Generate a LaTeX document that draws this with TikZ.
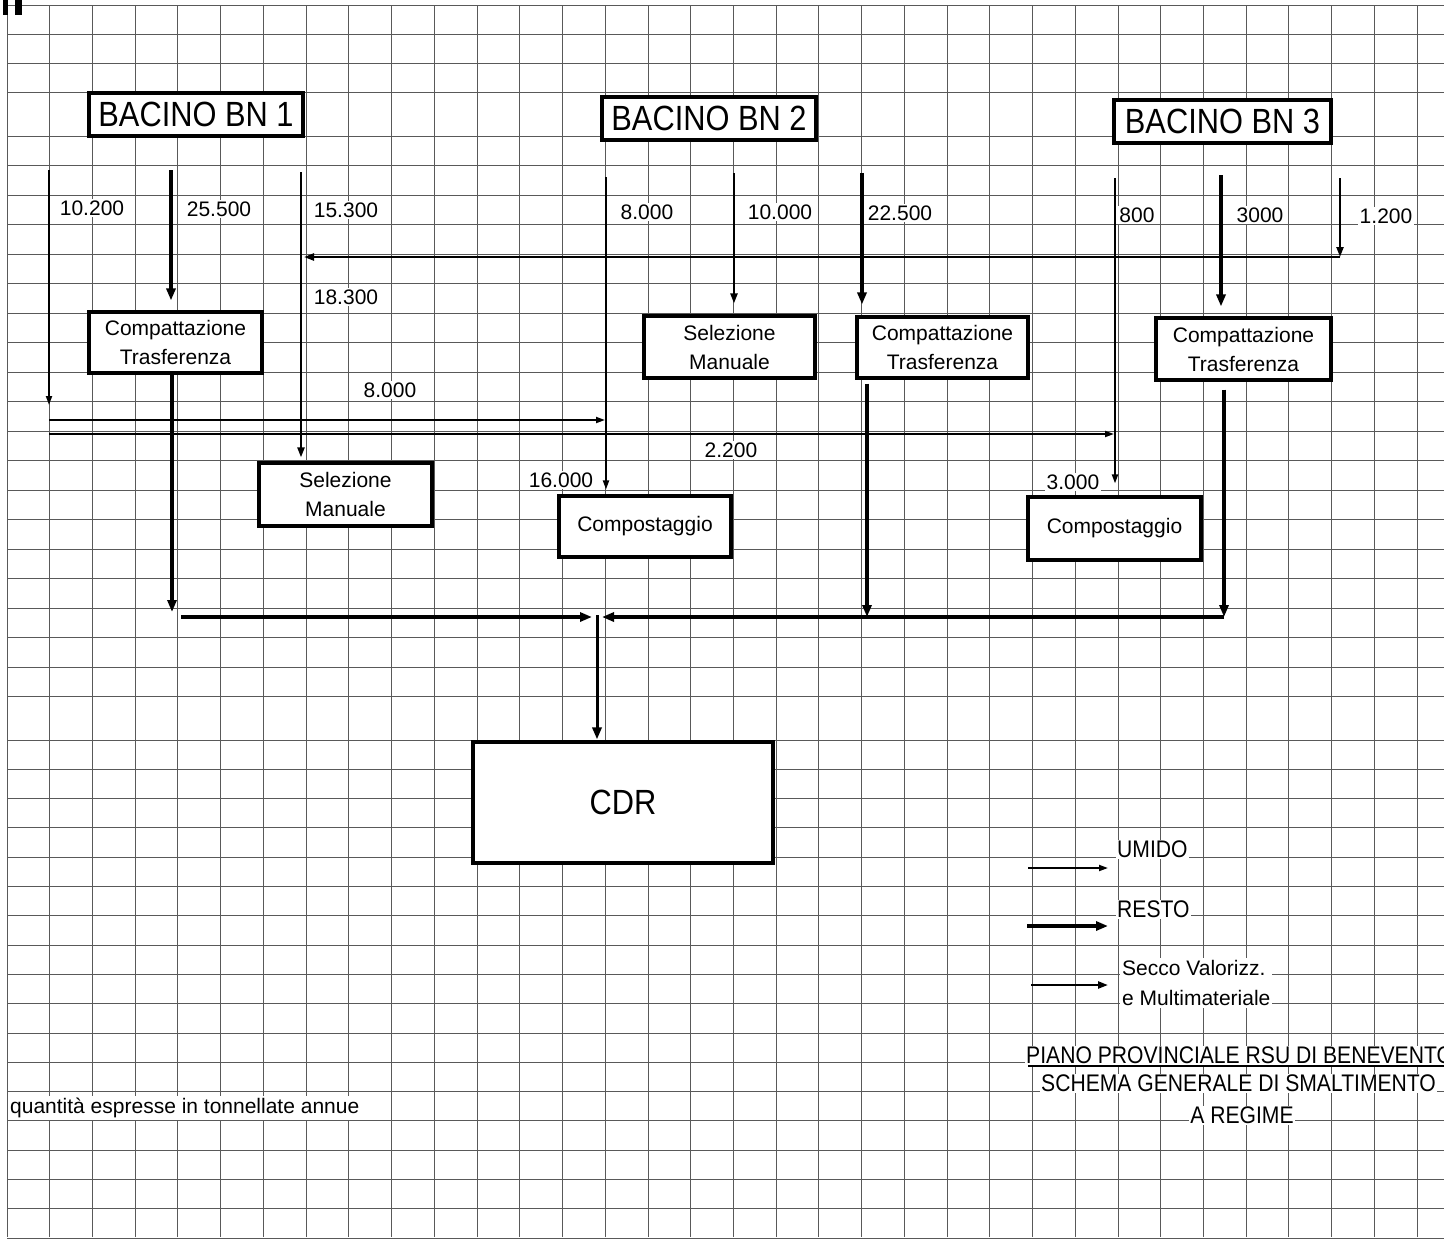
\documentclass[tikz,border=0pt]{standalone}
\usepackage{fontspec}
\setmainfont{Liberation Sans}
\newfontfamily\condf[FakeStretch=0.88]{Liberation Sans}
\usetikzlibrary{arrows.meta}
\begin{document}
\begin{tikzpicture}[x=1pt,y=-1pt,
  gridline/.style={line width=0.9pt, black!65},
  box/.style={draw, line width=3.1pt, fill=white, inner sep=0pt, align=center, font=\fontsize{21}{29}\selectfont},
  big/.style={draw, line width=3.1pt, fill=white, inner sep=0pt, font=\condf\fontsize{35}{40}\selectfont},
  lab/.style={fill=white, inner sep=2pt, font=\fontsize{21}{25}\selectfont},
  capt/.style={fill=white, inner sep=1pt, font=\condf\fontsize{24}{30}\selectfont},
  umido/.style={-{Triangle[length=9pt,width=6pt]}, line width=1.8pt},
  secco/.style={-{Triangle[length=10pt,width=7pt]}, line width=2.2pt},
  resto/.style={-{Triangle[length=12pt,width=9pt]}, line width=3.3pt},
]
\useasboundingbox (0,0) rectangle (1444,1245);
\clip (0,0) rectangle (1444,1245);
\fill[white] (0,0) rectangle (1444,1245);

% grid paper
\foreach \k in {0,...,33} \draw[gridline] ({7+42.73*\k},5) -- ({7+42.73*\k},1237);
\foreach \y in {5,34,63,92} \draw[gridline] (7,\y) -- (1444,\y);
\foreach \k in {0,...,19} \draw[gridline] (7,{136+29.5*\k}) -- (1444,{136+29.5*\k});
\foreach \k in {0,...,17} \draw[gridline] (7,{740+29.3*\k}) -- (1444,{740+29.3*\k});
\fill[black] (3,0) rectangle (8,15);
\fill[black] (15,0) rectangle (22,15);

% main boxes
\node[big, minimum width=214pt, minimum height=43pt] (b1) at (196,114.5) {BACINO BN 1};
\node[big, minimum width=214pt, minimum height=43pt] (b2) at (709,118.5) {BACINO BN 2};
\node[big, minimum width=217pt, minimum height=43pt] (b3) at (1222.5,121.5) {BACINO BN 3};

\node[box, minimum width=173pt, minimum height=61pt] (ct1) at (175.5,342.5) {Compattazione\\Trasferenza};
\node[box, minimum width=173pt, minimum height=63pt] (sm1) at (345.5,494.5) {Selezione\\Manuale};
\node[box, minimum width=171pt, minimum height=62pt] (sm2) at (729.5,347) {Selezione\\Manuale};
\node[box, minimum width=171pt, minimum height=61pt] (ct2) at (942.5,347.5) {Compattazione\\Trasferenza};
\node[box, minimum width=175pt, minimum height=62pt] (ct3) at (1243.5,349) {Compattazione\\Trasferenza};
\node[box, minimum width=172pt, minimum height=61pt] (cp2) at (645,526.5) {Compostaggio};
\node[box, minimum width=173pt, minimum height=63pt] (cp3) at (1114.5,528.5) {Compostaggio};
\node[big, minimum width=300pt, minimum height=121pt] (cdr) at (623,802.5) {CDR};

% junction coordinates
\coordinate (s1a) at (49,170);
\coordinate (e1a) at (49,405);
\coordinate (h1) at (49,420);
\coordinate (h2) at (49,434);
\coordinate (s1b) at (171,170);
\coordinate (s1c) at (301,172);
\coordinate (s2a) at (606,177);
\coordinate (s2b) at (734,173);
\coordinate (s2c) at (862,173);
\coordinate (s3a) at (1115,178);
\coordinate (s3b) at (1221,175);
\coordinate (s3c) at (1340,178);
\coordinate (j3) at (1340,257);
\coordinate (o1) at (172,612);
\coordinate (cl) at (181,617);
\coordinate (o2) at (867,617);
\coordinate (o3) at (1224,617);
\coordinate (cx) at (597,617);

% BN1 flows
\draw[umido] (s1a) -- (e1a);
\draw[umido, shorten >=1pt] (h1) -- (h1 -| s2a);
\draw[umido, shorten >=1pt] (h2) -- (h2 -| s3a);
\draw[resto, shorten >=10pt] (s1b) -- (s1b |- ct1.north);
\draw[secco, shorten >=4pt] (s1c) -- (s1c |- sm1.north);
% BN2 flows
\draw[umido, shorten >=5pt] (s2a) -- (s2a |- cp2.north);
\draw[secco, shorten >=11pt] (s2b) -- (s2b |- sm2.north);
\draw[resto, shorten >=11pt] (s2c) -- (s2c |- ct2.north);
% BN3 flows
\draw[umido, shorten >=12pt] (s3a) -- (s3a |- cp3.north);
\draw[resto, shorten >=10pt] (s3b) -- (s3b |- ct3.north);
\draw[secco] (s3c) -- (j3);
\draw[secco, shorten >=3pt] (j3) -- (j3 -| s1c);
% to CDR
\draw[resto, line width=3.6pt] (ct1.south -| o1) -- (o1);
\draw[resto, line width=3.6pt] (cl) -- ([xshift=-5pt]cx);
\draw[resto, line width=3.6pt, shorten <=4pt] (ct2.south -| o2) -- (o2);
\draw[resto, line width=3.6pt, shorten <=8pt] (ct3.south -| o3) -- (o3);
\draw[resto, line width=3.6pt] (o3) -- ([xshift=5pt]cx);
\draw[resto, line width=3pt, shorten >=1pt] ([yshift=2pt]cx) -- (cx |- cdr.north);

% quantities
\node[lab] (q1) at (92,208) {10.200};
\node[lab] (q2) at (219,209) {25.500};
\node[lab] (q3) at (346,210) {15.300};
\node[lab] (q4) at (346,297) {18.300};
\node[lab] (q5) at (390,390) {8.000};
\node[lab] (q6) at (647,212) {8.000};
\node[lab] (q7) at (780,212) {10.000};
\node[lab] (q8) at (900,213) {22.500};
\node[lab] (q9) at (1137,215) {800};
\node[lab] (q10) at (1260,215) {3000};
\node[lab] (q11) at (1386,216) {1.200};
\node[lab] (q12) at (731,450) {2.200};
\node[lab] (q13) at (561,480) {16.000};
\node[lab] (q14) at (1073,482) {3.000};

% legend
\coordinate (lu1) at (1028,868); \coordinate (lu2) at (1108,868);
\coordinate (lr1) at (1027,926); \coordinate (lr2) at (1108,926);
\coordinate (ls1) at (1031,985); \coordinate (ls2) at (1108,985);
\draw[umido] (lu1) -- (lu2);
\draw[resto] (lr1) -- (lr2);
\draw[secco] (ls1) -- (ls2);
\node[capt, anchor=west] (lgu) at (1116,849) {UMIDO};
\node[capt, anchor=west] (lgr) at (1116,909) {RESTO};
\node[lab, anchor=west, align=left, font=\fontsize{21}{30}\selectfont] (lgs) at (1120,983) {Secco Valorizz.\\e Multimateriale};

% title
\node[capt, anchor=west] (t1) at (1025,1055) {PIANO PROVINCIALE RSU DI BENEVENTO};
\draw[line width=1.3pt] (1028,1066) -- (1444,1066);
\node[capt, anchor=west] (t2) at (1040,1083) {SCHEMA GENERALE DI SMALTIMENTO};
\node[capt] (t3) at (1242,1115) {A REGIME};
\node[lab, anchor=west] (note) at (8,1108) {quantità espresse in tonnellate annue};
\end{tikzpicture}
\end{document}
